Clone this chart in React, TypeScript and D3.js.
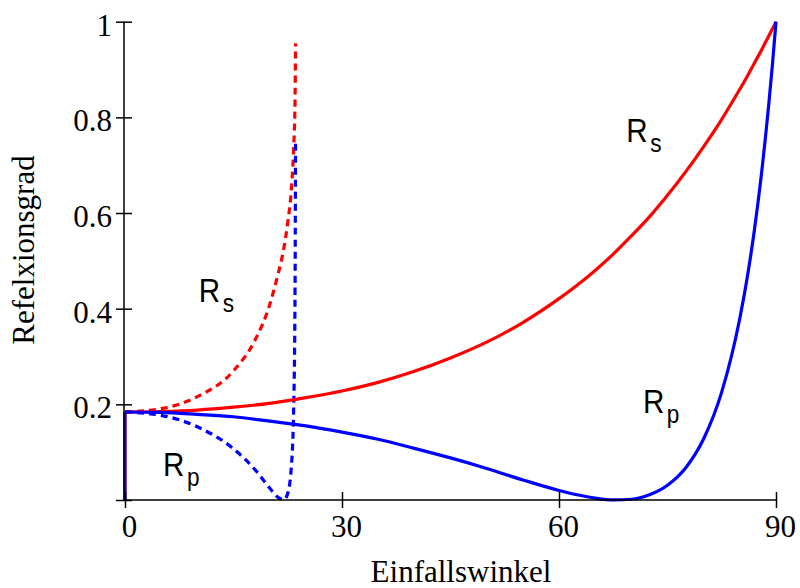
import React, { useEffect, useRef } from 'react';
import * as d3 from 'd3';

// Einfallswinkel (deg), Reflexion außen -> Glas (solid lines)
const anglesOut = [0, 0, 5, 10, 15, 20, 25, 30, 35, 40, 45, 50, 55, 60, 62.5, 65, 67.5, 70, 72.5, 75, 77.5, 80, 82.5, 85, 86, 87, 88, 89, 89.5, 90];
const rsOut = [0, 0.184, 0.185, 0.188, 0.194, 0.202, 0.214, 0.228, 0.246, 0.269, 0.297, 0.330, 0.371, 0.421, 0.449, 0.480, 0.514, 0.552, 0.592, 0.637, 0.686, 0.739, 0.796, 0.859, 0.885, 0.913, 0.941, 0.970, 0.985, 1];
const rpOut = [0, 0.184, 0.183, 0.179, 0.174, 0.165, 0.155, 0.142, 0.127, 0.108, 0.088, 0.066, 0.042, 0.020, 0.011, 0.004, 0.0002, 0.0016, 0.011, 0.031, 0.067, 0.128, 0.226, 0.380, 0.463, 0.563, 0.683, 0.827, 0.909, 1];

// Reflexion innen (dashed lines), up to the critical angle
const anglesIn = [0, 5, 10, 15, 18, 20, 21, 22, 22.5, 23, 23.3, 23.5, 23.58];
const rsIn = [0.184, 0.191, 0.216, 0.270, 0.335, 0.408, 0.463, 0.53, 0.58, 0.65, 0.73, 0.83, 0.955];
const rpIn = [0.184, 0.177, 0.153, 0.107, 0.063, 0.025, 0.0075, 0.0008, 0.014, 0.070, 0.179, 0.417, 0.745];

const xTicks = [0, 30, 60, 90];
const yTicks = [0, 0.2, 0.4, 0.6, 0.8, 1];
const yTickLabels = ['', '0.2', '0.4', '0.6', '0.8', '1'];

const labels = [
  { main: 'R', sub: 's', angle: 69.3, value: 0.749, color: 'red' },
  { main: 'R', sub: 's', angle: 10.2, value: 0.414, color: 'red' },
  { main: 'R', sub: 'p', angle: 71.6, value: 0.182, color: 'blue' },
  { main: 'R', sub: 'p', angle: 5.25, value: 0.05, color: 'blue' },
];

const App = () => {
  const ref = useRef<SVGSVGElement>(null);

  useEffect(() => {
    const svg = d3.select(ref.current);
    svg.selectAll('*').remove();

    const x = d3.scaleLinear().domain([0, 90]).range([125, 776]);
    const y = d3.scaleLinear().domain([0, 1]).range([500, 21.7]);
    const serif = '"Liberation Serif", "Times New Roman", serif';

    const drawCurve = (xs: number[], ys: number[], color: string, dash: string | null) => {
      const pts = xs.map((a, i) => [a, ys[i]] as [number, number]);
      const smooth = d3.line<[number, number]>()
        .x(d => x(d[0]))
        .y(d => y(d[1]))
        .curve(d3.curveMonotoneX);
      const straight = d3.line<[number, number]>().x(d => x(d[0])).y(d => y(d[1]));
      // leading vertical drop at 0 deg (same x twice)
      let rest = pts;
      if (pts.length > 1 && pts[0][0] === pts[1][0]) {
        svg.append('path')
          .attr('d', straight(pts.slice(0, 2)))
          .attr('fill', 'none')
          .attr('stroke', color)
          .attr('stroke-width', 3);
        rest = pts.slice(1);
      }
      const p = svg.append('path')
        .attr('d', smooth(rest))
        .attr('fill', 'none')
        .attr('stroke', color)
        .attr('stroke-width', 3.2)
        .attr('stroke-linejoin', 'round');
      if (dash) p.attr('stroke-dasharray', dash);
    };

    drawCurve(anglesIn, rsIn, 'red', '7 5');
    drawCurve(anglesIn, rpIn, 'blue', '7 5');
    drawCurve(anglesOut, rsOut, 'red', null);
    drawCurve(anglesOut, rpOut, 'blue', null);

    // axes
    const xAxis = svg.append('g')
      .attr('transform', 'translate(0,500)')
      .call(d3.axisBottom(x).tickValues(xTicks).tickSize(8).tickSizeOuter(0).tickFormat(d3.format('d')));
    xAxis.select('.domain').attr('d', `M124,0H${x(90)}`).attr('stroke-width', 1.5);
    xAxis.selectAll('.tick line').attr('y1', -8).attr('y2', 8).attr('stroke-width', 1.5);
    xAxis.selectAll('.tick text')
      .attr('y', 37).attr('dy', null).attr('dx', 4)
      .style('font-family', serif).style('font-size', '31px').attr('fill', '#000');

    const yAxis = svg.append('g')
      .attr('transform', 'translate(124,0)')
      .call(d3.axisLeft(y).tickValues(yTicks).tickSize(8).tickSizeOuter(0)
        .tickFormat((d, i) => yTickLabels[i]));
    yAxis.select('.domain').attr('d', `M0,${y(0)}V${y(1)}`).attr('stroke-width', 1.5);
    yAxis.selectAll('.tick line').attr('x1', -8).attr('x2', 8).attr('stroke-width', 1.5);
    yAxis.selectAll('.tick text')
      .attr('x', -12).attr('dy', 13.5)
      .style('font-family', serif).style('font-size', '31px').attr('fill', '#000');

    svg.append('text')
      .attr('x', 461).attr('y', 582)
      .attr('text-anchor', 'middle')
      .style('font-family', serif).style('font-size', '31px')
      .text('Einfallswinkel');

    svg.append('text')
      .attr('transform', 'translate(34,250) rotate(-90)')
      .attr('text-anchor', 'middle')
      .style('font-family', serif).style('font-size', '31px')
      .text('Refelxionsgrad');

    // curve labels
    labels.forEach(l => {
      const t = svg.append('text')
        .attr('transform', `translate(${x(l.angle)},${y(l.value)}) scale(0.87,1)`)
        .style('font-family', '"Liberation Sans", Arial, sans-serif')
        .attr('fill', '#000');
      t.append('tspan').style('font-size', '34px').text(l.main);
      t.append('tspan').attr('dx', 3).attr('dy', 10).style('font-size', '26px').text(l.sub);
    });
  }, []);

  return (
    <svg ref={ref} width={800} height={588}
      style={{ position: 'absolute', left: 0, top: 0, background: '#fff' }} />
  );
};

export default App;
